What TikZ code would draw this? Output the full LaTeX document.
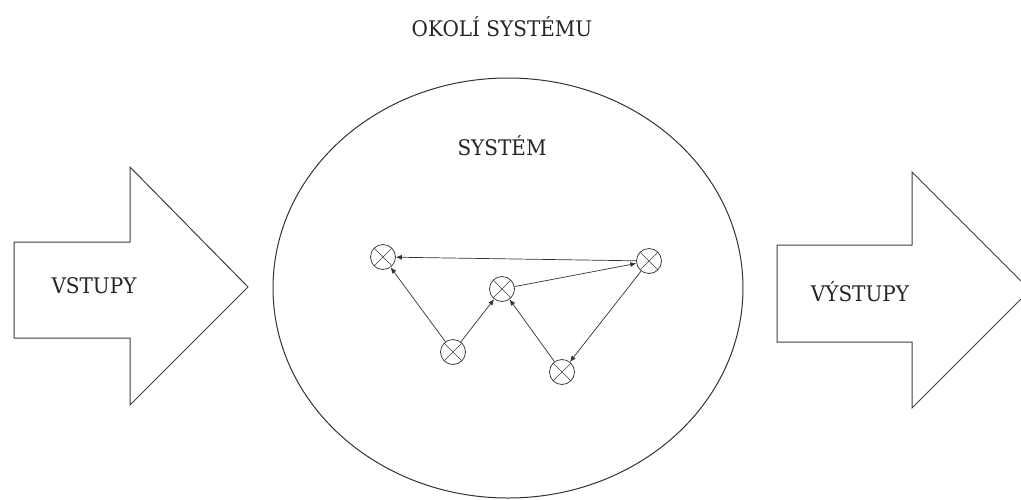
\documentclass[tikz,border=0pt]{standalone}
\usepackage{fontspec}
\setmainfont{DejaVu Serif}
\newfontfamily\lblfont[FakeStretch=0.93]{DejaVu Serif}
\usetikzlibrary{arrows.meta}
\begin{document}
\begin{tikzpicture}[x=1pt,y=-1pt,
  lbl/.style={font=\lblfont\fontsize{21.5}{24}\selectfont, text=black!85, inner sep=0pt},
  bigarrow/.style={draw=black!75, fill=white, line width=1pt, line join=miter},
  boundary/.style={draw=black!80, line width=1pt},
  elem/.style={circle, draw=black!75, line width=0.8pt, minimum size=25pt, inner sep=0pt,
    path picture={\draw[black!75, line width=0.6pt]
      (path picture bounding box.north west) -- (path picture bounding box.south east)
      (path picture bounding box.north east) -- (path picture bounding box.south west);}},
  link/.style={draw=black!80, line width=0.7pt, -{Latex[length=6pt,width=5pt]}}
]
\useasboundingbox (0,0) rectangle (1021,499);
\begin{scope}
\clip (0,0) rectangle (1021,499);
\draw[boundary] (508,288) ellipse [x radius=235, y radius=210];
\draw[bigarrow] (14,242) -- (130,242) -- (130,167) -- (248,287) -- (130,405) -- (130,338) -- (14,338) -- cycle;
\draw[bigarrow] (777,245) -- (912,245) -- (912,172) -- (1030,290) -- (912,408) -- (912,342) -- (777,342) -- cycle;
\end{scope}

\node[lbl] (okoli) at (502,27) {OKOLÍ SYSTÉMU};
\node[lbl] (system) at (502,146) {SYSTÉM};
\node[lbl] (vstupy) at (94,286) {VSTUPY};
\node[lbl] (vystupy) at (860,292) {VÝSTUPY};

\node[elem] (A) at (383,257) {};
\node[elem] (B) at (502,289) {};
\node[elem] (C) at (649,261) {};
\node[elem] (D) at (453,352) {};
\node[elem] (E) at (562,372) {};

\draw[link] (C) -- (A);
\draw[link] (B) -- (C);
\draw[link] (D) -- (A);
\draw[link] (D) -- (B);
\draw[link] (E) -- (B);
\draw[link] (C) -- (E);
\end{tikzpicture}
\end{document}
